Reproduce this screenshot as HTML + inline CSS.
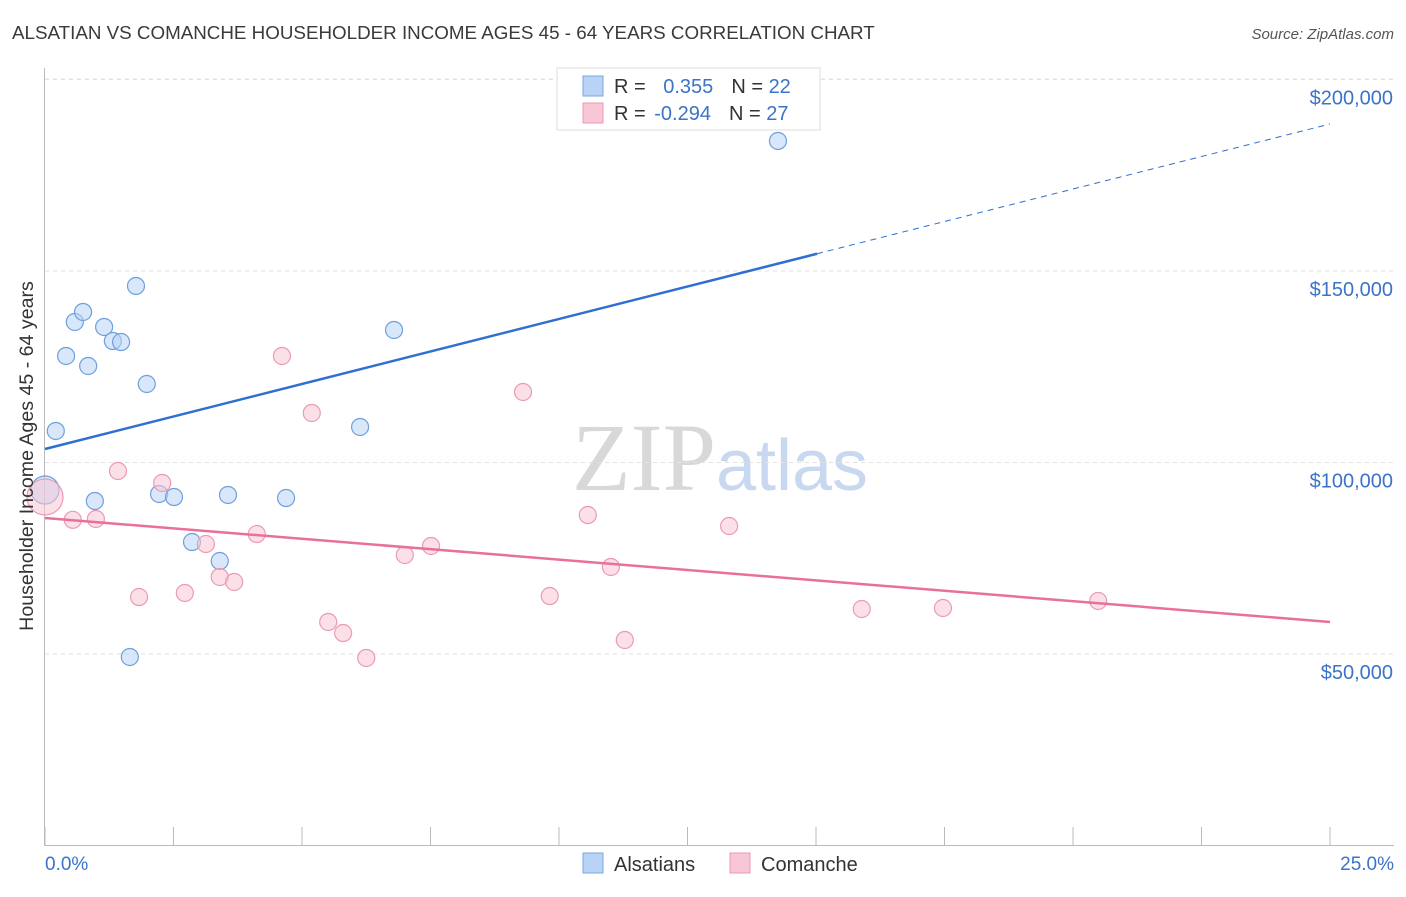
<!DOCTYPE html>
<html><head><meta charset="utf-8"><style>
body{margin:0;background:#fff;font-family:"Liberation Sans",sans-serif;}
</style></head><body>
<svg id="chart" width="1406" height="892" xmlns="http://www.w3.org/2000/svg" style="font-family:'Liberation Sans',sans-serif">
<text x="12" y="39" font-size="18.8" fill="#3a3a3a">ALSATIAN VS COMANCHE HOUSEHOLDER INCOME AGES 45 - 64 YEARS CORRELATION CHART</text>
<text x="1394" y="39" font-size="15" fill="#555" text-anchor="end" font-style="italic">Source: ZipAtlas.com</text>
<text x="720" y="490" font-size="96" text-anchor="middle" fill="#d8d8d8" font-family="Liberation Serif,serif">ZIP<tspan fill="#c8d8f0" font-family="Liberation Sans,sans-serif" font-size="72">atlas</tspan></text>
<g id="grid"></g><g id="axes"></g><g id="marks"></g>
<text transform="translate(33,456) rotate(-90)" font-size="19.6" fill="#333" text-anchor="middle">Householder Income Ages 45 - 64 years</text>
<text x="45" y="870" font-size="19" fill="#3b73c9">0.0%</text>
<text x="1394" y="870" font-size="19" fill="#3b73c9" text-anchor="end">25.0%</text>
<g>
<rect x="557" y="68" width="263" height="62" fill="#fff" stroke="#ddd"/>
<rect x="583" y="76" width="20" height="20" fill="#b8d3f5" stroke="#7aa6e0"/>
<rect x="583" y="103" width="20" height="20" fill="#f9c6d5" stroke="#eb9ab3"/>
<text x="614" y="93" font-size="20" fill="#333">R = <tspan fill="#3b73c9" dx="12">0.355</tspan><tspan dx="18" fill="#333">N = </tspan><tspan fill="#3b73c9">22</tspan></text>
<text x="614" y="120" font-size="20" fill="#333">R = <tspan fill="#3b73c9" dx="3">-0.294</tspan><tspan dx="18" fill="#333">N = </tspan><tspan fill="#3b73c9">27</tspan></text>
</g>
<g>
<rect x="583" y="853" width="20" height="20" fill="#b8d3f5" stroke="#7aa6e0"/>
<text x="614" y="871" font-size="20" fill="#333">Alsatians</text>
<rect x="730" y="853" width="20" height="20" fill="#f9c6d5" stroke="#eb9ab3"/>
<text x="761" y="871" font-size="20" fill="#333">Comanche</text>
</g>
</svg>
<script>
const yTicks=[50000,100000,150000,200000];
const yTickLabels=["$50,000","$100,000","$150,000","$200,000"];
const xTicks=[0,2.5,5,7.5,10,12.5,15,17.5,20,22.5,25];
const alsX=[0,0.21,0.41,0.58,0.74,0.84,0.97,1.15,1.32,1.48,1.65,1.77,1.98,2.22,2.51,2.86,3.40,3.56,4.69,6.13,6.79,14.26];
const alsY=[92820,108230,127810,136690,139300,125200,89950,135380,131720,131460,49220,146090,120500,91780,90990,79240,74280,91520,90730,109270,134600,183950];
const comX=[0,0.54,0.99,1.42,1.83,2.28,2.72,3.13,3.40,3.68,4.12,4.61,5.19,5.51,5.80,6.25,7.00,7.51,9.30,9.82,10.56,11.01,11.28,13.31,15.89,17.47,20.49];
const comY=[90990,85030,85250,97780,64880,94650,65930,78720,70110,68800,81330,127810,112930,58360,55480,48960,75850,78200,118410,65140,86290,72720,53660,83420,61750,62010,63840];
const alsTrend=[103530,188380]; const alsSolidEnd=15.02;
const comTrend=[85510,58360];
const X=v=>45+v*(1330-45)/25, Y=v=>845.5-v*191.5/50000;
const NS="http://www.w3.org/2000/svg";
function mk(p,t,a){const e=document.createElementNS(NS,t);for(const k in a)e.setAttribute(k,a[k]);document.getElementById(p).appendChild(e);return e;}
yTicks.forEach((t,i)=>{
 const l=mk('grid','line',{x1:45,x2:1394,y1:Y(t),y2:Y(t),stroke:'#e2e2e2','stroke-dasharray':'4,4'});
 
 
 const tx=mk('grid','text',{x:1393,y:Y(t)+25,'font-size':20,fill:'#3b73c9','text-anchor':'end'});
 tx.textContent=yTickLabels[i];
 
 
});
const tg=mk('grid','line',{x1:45,x2:1394,y1:79,y2:79,stroke:'#e2e2e2','stroke-dasharray':'4,4'});


const ya=mk('axes','line',{x1:44.5,x2:44.5,y1:68,y2:846,stroke:'#bbb'});


const xa=mk('axes','line',{x1:45,x2:1394,y1:845.5,y2:845.5,stroke:'#bbb'});


xTicks.forEach(t=>{const l=mk('axes','line',{x1:X(t),x2:X(t),y1:827,y2:846,stroke:'#bbb'});
 
 });
function pts(xs,ys,fill,stroke,bigR,name){xs.forEach((x,i)=>{const c=mk('marks','circle',{cx:X(x),cy:Y(ys[i]),r:i==0?bigR:8.5,fill:fill,'fill-opacity':0.55,stroke:stroke,'stroke-width':1.2});
 
 });}
pts(alsX,alsY,'#b8d3f5','#6f9fdc',14,'alsatian-point');
pts(comX,comY,'#f9c6d5','#eb9ab3',18,'comanche-point');
const aAt=x=>alsTrend[0]+(alsTrend[1]-alsTrend[0])*x/25;
const l1=mk('marks','line',{x1:X(0),y1:Y(aAt(0)),x2:X(alsSolidEnd),y2:Y(aAt(alsSolidEnd)),stroke:'#2f6fd0','stroke-width':2.5});


const l2=mk('marks','line',{x1:X(alsSolidEnd),y1:Y(aAt(alsSolidEnd)),x2:X(25),y2:Y(aAt(25)),stroke:'#2f6fd0','stroke-width':1,'stroke-dasharray':'6,5'});


const l3=mk('marks','line',{x1:X(0),y1:Y(comTrend[0]),x2:X(25),y2:Y(comTrend[1]),stroke:'#e8709a','stroke-width':2.5});


</script>
</body></html>
